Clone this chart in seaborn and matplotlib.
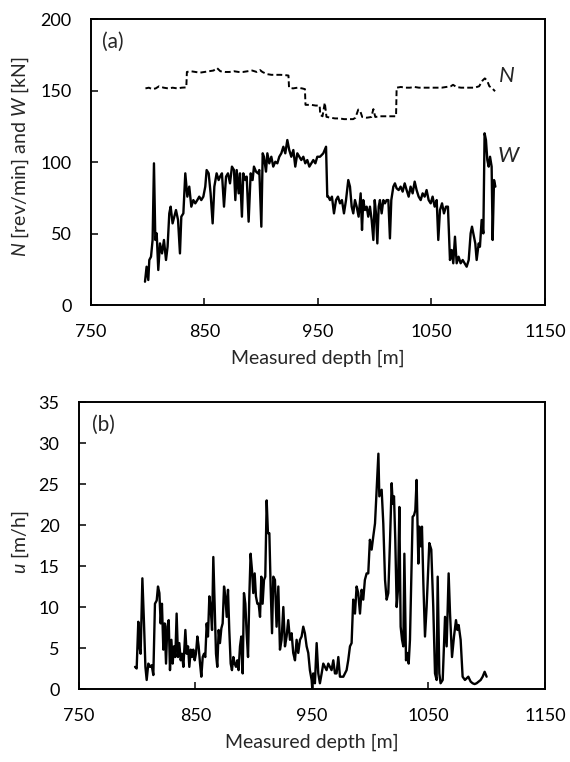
import matplotlib
matplotlib.use("Agg")
from matplotlib import pyplot as plt
import seaborn as sns

# === Data ===
# (a) weight on bit W [kN] vs measured depth [m]
w_depth = [797.6, 799.0, 800.5, 801.4, 802.9, 804.3, 805.5, 806.7, 807.9, 809.3,
           810.8, 812.6, 814.3, 816.1, 817.5, 819.0, 820.2, 821.9, 823.4, 824.9,
           826.7, 828.4, 829.6, 831.4, 833.1, 834.9, 836.6, 838.4, 840.2, 841.9,
           843.7, 845.4, 847.2, 849.0, 850.7, 851.9, 853.7, 855.4, 857.2, 858.7,
           860.7, 862.5, 863.7, 865.4, 867.2, 869.0, 870.7, 872.5, 874.2, 876.0,
           877.2, 878.4, 880.1, 881.3, 883.0, 884.2, 886.0, 887.2, 888.9, 890.7,
           892.4, 893.6, 895.4, 897.1, 898.3, 900.1, 901.3, 902.4, 904.2, 905.4,
           907.1, 908.9, 910.6, 912.4, 914.2, 915.9, 917.7, 919.5, 921.2, 923.0,
           924.7, 926.5, 928.3, 930.0, 931.8, 933.6, 935.3, 937.1, 938.8, 940.6,
           942.4, 944.1, 945.9, 947.7, 949.4, 951.8, 954.7, 957.1, 958.2, 959.1,
           960.6, 962.3, 964.1, 965.9, 967.6, 969.4, 971.1, 972.9, 974.7, 976.7,
           978.2, 979.7, 981.1, 982.6, 984.1, 985.8, 987.6, 988.8, 989.9, 991.4,
           992.9, 994.3, 995.8, 997.3, 998.8, 1000.0, 1001.1, 1002.3, 1003.5, 1004.6,
           1006.1, 1007.6, 1009.0, 1010.5, 1012.0, 1013.4, 1014.6, 1016.4, 1017.8, 1019.3,
           1021.1, 1022.8, 1024.6, 1026.4, 1028.1, 1029.9, 1031.6, 1033.4, 1035.2, 1036.9,
           1038.7, 1040.5, 1042.2, 1044.0, 1045.7, 1047.5, 1049.3, 1051.0, 1052.8, 1054.6,
           1056.0, 1057.5, 1059.3, 1061.0, 1062.8, 1064.5, 1066.3, 1067.8, 1069.2, 1070.7,
           1072.2, 1073.9, 1075.7, 1077.5, 1079.2, 1081.0, 1082.8, 1084.5, 1085.7, 1086.9,
           1088.6, 1089.8, 1091.6, 1092.7, 1094.2, 1095.7, 1096.8, 1098.0, 1099.2, 1100.4,
           1101.6, 1103.0, 1103.9, 1105.1, 1106.3]
w_load = [16.3, 26.8, 17.5, 31.5, 33.8, 45.5, 99.1, 45.5, 50.1, 24.5,
          43.1, 36.1, 45.5, 31.5, 40.8, 64.1, 68.8, 57.1, 61.8, 66.4,
          59.5, 36.1, 61.8, 64.1, 92.1, 75.8, 82.8, 68.8, 73.4, 71.1,
          73.4, 75.8, 73.4, 75.8, 82.8, 94.4, 92.1, 78.1, 57.1, 82.8,
          92.1, 87.4, 89.8, 92.1, 68.8, 89.8, 92.1, 85.1, 96.8, 94.4,
          73.4, 94.4, 78.1, 92.1, 61.8, 92.1, 87.4, 89.8, 58.3, 92.1,
          87.4, 96.8, 93.3, 92.1, 94.4, 54.8, 106.1, 103.7, 93.3, 106.1,
          99.1, 103.7, 96.8, 100.2, 99.1, 103.7, 106.1, 110.7, 106.1, 115.4,
          108.4, 103.7, 108.4, 96.8, 106.1, 103.7, 101.4, 103.7, 99.1, 101.4,
          96.8, 99.1, 101.4, 99.1, 103.7, 103.7, 106.1, 110.7, 75.8, 75.8,
          73.4, 75.8, 64.1, 73.4, 75.8, 71.1, 73.4, 64.1, 73.4, 87.4,
          82.8, 68.8, 64.1, 73.4, 68.8, 61.8, 78.1, 52.5, 73.4, 66.4,
          68.8, 61.8, 68.8, 59.5, 45.5, 73.4, 64.1, 43.1, 68.8, 73.4,
          64.1, 73.4, 71.1, 73.4, 73.4, 46.6, 73.4, 82.8, 85.1, 81.6,
          80.4, 82.8, 79.3, 85.1, 80.4, 75.8, 82.8, 78.1, 86.3, 80.4,
          75.8, 73.4, 78.1, 75.8, 80.4, 73.4, 71.1, 75.8, 68.8, 73.4,
          45.5, 66.4, 71.1, 64.1, 68.8, 68.8, 31.5, 38.5, 29.2, 47.8,
          29.2, 33.8, 29.2, 31.5, 29.2, 26.8, 31.5, 50.1, 54.8, 50.1,
          43.1, 31.5, 43.1, 40.8, 59.5, 50.1, 120.1, 115.4, 101.4, 96.8,
          103.7, 96.8, 45.5, 87.4, 82.8]

# (a) rotary speed N [rev/min] vs measured depth [m]
n_depth = [798, 801, 804, 807, 810, 814, 818, 822, 826, 830,
           834, 834.5, 838, 842, 846, 850, 854, 858, 861, 864,
           868, 872, 876, 880, 884, 888, 892, 896, 899, 901,
           905, 909, 913, 917, 921, 924, 924.5, 928, 932, 936,
           938.5, 939, 944, 948, 951.5, 952, 954, 956, 957.5, 961,
           965, 969, 973, 977, 981, 983, 985.5, 987.5, 989, 993,
           997, 998.8, 1000.5, 1004, 1008, 1012, 1016, 1018.8, 1019.3, 1023,
           1027, 1031, 1035, 1039, 1043, 1047, 1051, 1055, 1059, 1063,
           1067, 1069, 1072, 1076, 1080, 1084, 1088, 1092, 1095, 1097,
           1099, 1101, 1103, 1106]
n_speed = [151.5, 152, 151, 151.5, 153, 152, 151.5, 152, 151.5, 152,
           152.2, 163, 163.5, 163, 162.5, 163, 163.5, 164, 165.8, 163.5,
           163, 163, 163.5, 163, 163, 163.5, 164, 163, 164.3, 163,
           161.5, 161, 161, 161, 160.8, 160.5, 152, 151.5, 152, 151.5,
           151, 140, 140, 139.5, 139.5, 133, 132, 141.5, 131.6, 131,
           130.5, 130.5, 130, 130, 130, 131, 136.7, 135, 131.5, 131,
           131.5, 137, 131.5, 132, 132, 132, 132, 132, 152, 152.5,
           152, 152, 152.5, 152, 152, 152, 152, 152, 152, 152.5,
           153, 154, 152.5, 152, 152, 152, 152, 153, 157, 158.5,
           157, 153, 152, 149.5]

# (b) rate of penetration u [m/h] vs measured depth [m]
u_depth = [798.1, 799.5, 800.9, 801.8, 802.9, 804.4, 805.8, 807.0, 808.1, 809.5,
           811.0, 812.4, 813.8, 815.2, 816.7, 817.8, 819.0, 820.1, 821.2, 822.4,
           823.5, 824.7, 825.8, 827.0, 828.1, 829.3, 830.4, 831.5, 832.7, 833.8,
           835.0, 836.1, 837.3, 838.4, 839.6, 841.3, 842.4, 843.6, 844.7, 845.9,
           847.0, 848.1, 849.3, 850.4, 851.6, 852.7, 853.9, 855.0, 856.2, 857.3,
           858.4, 859.6, 860.7, 861.9, 863.0, 864.2, 865.3, 866.5, 867.6, 868.7,
           869.9, 871.0, 872.2, 873.3, 874.5, 875.6, 876.8, 877.9, 879.0, 880.2,
           881.3, 882.5, 883.6, 884.8, 885.9, 887.0, 888.2, 889.3, 890.5, 891.6,
           892.8, 893.9, 895.1, 896.2, 897.3, 898.5, 899.6, 900.8, 901.9, 903.1,
           904.2, 905.4, 906.5, 907.6, 908.8, 909.9, 911.1, 912.2, 913.4, 914.5,
           915.7, 916.8, 918.2, 919.6, 921.1, 922.5, 923.9, 925.4, 926.8, 928.2,
           929.6, 931.1, 932.5, 933.9, 935.4, 936.8, 938.2, 939.7, 941.1, 942.5,
           943.9, 945.4, 946.8, 948.2, 949.7, 950.2, 951.1, 952.5, 954.0, 955.4,
           956.8, 958.3, 959.7, 961.1, 962.5, 964.0, 965.4, 966.8, 968.3, 969.7,
           971.1, 972.6, 974.0, 975.4, 976.9, 978.3, 979.7, 981.1, 982.6, 984.0,
           985.4, 986.9, 988.3, 989.7, 991.2, 992.6, 994.0, 995.4, 996.9, 998.3,
           999.7, 1001.2, 1002.6, 1004.1, 1005.5, 1007.0, 1007.8, 1009.8, 1011.2, 1012.7,
           1014.1, 1015.5, 1017.0, 1018.4, 1019.3, 1020.4, 1021.5, 1022.7, 1023.8, 1025.0,
           1026.1, 1027.3, 1028.4, 1029.3, 1030.7, 1031.8, 1033.0, 1034.1, 1035.3, 1036.4,
           1037.6, 1038.7, 1039.8, 1041.3, 1042.1, 1043.3, 1044.4, 1045.6, 1047.0, 1048.4,
           1050.7, 1052.4, 1054.1, 1055.6, 1057.0, 1057.9, 1059.3, 1060.4, 1062.2, 1064.2,
           1065.6, 1067.3, 1068.5, 1070.2, 1071.9, 1073.6, 1074.8, 1075.9, 1077.6, 1079.3,
           1081.3, 1084.2, 1086.2, 1087.9, 1089.6, 1091.3, 1093.0, 1094.8, 1096.5, 1098.2,
           1099.9]
u_rop = [2.7, 2.5, 8.2, 5.2, 4.3, 13.5, 8.0, 2.7, 1.1, 3.1,
         2.7, 2.9, 1.7, 10.4, 10.8, 12.5, 11.7, 8.0, 10.4, 4.8,
         8.0, 3.1, 7.6, 8.4, 2.3, 6.0, 3.1, 5.2, 3.9, 9.2,
         3.9, 5.6, 3.5, 4.3, 2.7, 7.2, 4.3, 5.2, 2.7, 4.8,
         3.9, 4.8, 3.5, 4.3, 6.4, 5.2, 3.1, 1.5, 3.9, 4.3,
         3.9, 8.0, 6.4, 11.3, 10.0, 7.2, 16.1, 10.0, 4.3, 2.7,
         7.2, 5.6, 7.4, 8.0, 12.5, 11.3, 8.8, 12.1, 7.2, 3.1,
         2.3, 3.9, 3.1, 2.7, 3.5, 2.3, 5.2, 6.4, 1.9, 11.7,
         10.4, 6.8, 3.9, 11.3, 16.5, 14.5, 11.7, 14.1, 11.3, 10.4,
         10.4, 8.8, 13.7, 10.4, 13.3, 13.7, 23.0, 19.0, 19.0, 12.5,
         6.8, 13.7, 13.3, 7.6, 12.5, 4.8, 6.0, 10.0, 5.2, 6.4,
         8.4, 6.0, 6.8, 4.4, 3.5, 6.0, 4.4, 6.0, 6.4, 7.6,
         6.8, 5.2, 4.4, 2.3, 1.1, 0.1, 1.9, 0.7, 5.6, 1.9,
         0.7, 1.9, 3.1, 2.7, 2.3, 3.1, 2.7, 2.3, 3.5, 1.9,
         1.9, 3.9, 1.5, 1.5, 1.5, 1.9, 2.3, 3.5, 5.2, 5.6,
         10.9, 9.2, 12.5, 11.7, 9.2, 12.1, 10.9, 13.3, 14.1, 14.1,
         18.2, 17.0, 18.6, 20.2, 24.3, 28.7, 23.5, 24.3, 20.2, 13.3,
         10.9, 11.7, 18.2, 25.1, 22.6, 23.5, 18.2, 10.0, 12.1, 22.2,
         7.6, 6.0, 5.2, 16.5, 3.5, 4.4, 3.1, 6.0, 14.1, 21.0,
         21.2, 21.8, 25.5, 15.3, 19.8, 17.4, 19.8, 12.9, 6.4, 10.0,
         17.8, 17.0, 10.0, 1.9, 1.1, 13.7, 1.9, 0.7, 1.1, 8.8,
         5.2, 14.1, 9.2, 3.9, 6.4, 8.4, 7.2, 7.8, 6.0, 1.5,
         1.1, 1.5, 0.9, 0.7, 0.6, 0.7, 0.9, 1.1, 1.5, 2.1,
         1.5]

x_ticks = [750, 850, 950, 1050, 1150]

# === Style ===
sns.set_style("white")
plt.rcParams['font.family'] = ['Lato', 'DejaVu Sans']
plt.rcParams['mathtext.fontset'] = 'custom'
plt.rcParams['mathtext.rm'] = 'Lato'
plt.rcParams['mathtext.it'] = 'Lato:italic'

FS = 14      # axis titles
TFS = 13     # tick labels


def style_axes(ax):
    for s in ax.spines.values():
        s.set_visible(True)
        s.set_color('black')
        s.set_linewidth(1.4)
    ax.tick_params(axis='both', direction='in', length=5, width=1.1,
                   pad=14, labelsize=TFS, colors='black',
                   left=True, bottom=True, right=False, top=False)
    ax.set_xlim(750, 1150)
    ax.set_xticks(x_ticks)
    ax.set_xlabel("Measured depth [m]", fontsize=FS)
    ax.xaxis.set_label_coords(0.5, -0.155)


fig = plt.figure(figsize=(5.7, 7.62), dpi=100)
fig.patch.set_facecolor('white')

# === (a) N and W ===
ax1 = fig.add_axes([0.1596, 0.5997, 0.7965, 0.3753])
sns.lineplot(x=n_depth, y=n_speed, ax=ax1, color='black', lw=1.4,
             linestyle=(0, (3, 1.6)), sort=False, estimator=None)
sns.lineplot(x=w_depth, y=w_load, ax=ax1, color='black', lw=1.7,
             sort=False, estimator=None)
style_axes(ax1)
ax1.set_ylim(0, 200)
ax1.set_yticks([0, 50, 100, 150, 200])
ax1.set_ylabel(r"$N$ [rev/min] and $W$ [kN]", fontsize=FS)
ax1.yaxis.set_label_coords(-0.132, 0.52)
ax1.text(0.024, 0.92, "(a)", transform=ax1.transAxes, fontsize=15,
         ha='left', va='center')
ax1.text(1109, 160.5, "N", style='italic', fontsize=16, va='center')
ax1.text(1108, 104, "W", style='italic', fontsize=16, va='center')

# === (b) u ===
ax2 = fig.add_axes([0.1386, 0.0958, 0.8175, 0.3766])
sns.lineplot(x=u_depth, y=u_rop, ax=ax2, color='black', lw=1.7,
             sort=False, estimator=None)
style_axes(ax2)
ax2.set_ylim(0, 35)
ax2.set_yticks([0, 5, 10, 15, 20, 25, 30, 35])
ax2.set_ylabel(r"$u$ [m/h]", fontsize=FS)
ax2.yaxis.set_label_coords(-0.104, 0.51)
ax2.text(0.028, 0.92, "(b)", transform=ax2.transAxes, fontsize=15,
         ha='left', va='center')

fig.savefig("out.png", dpi=100)
plt.close(fig)
